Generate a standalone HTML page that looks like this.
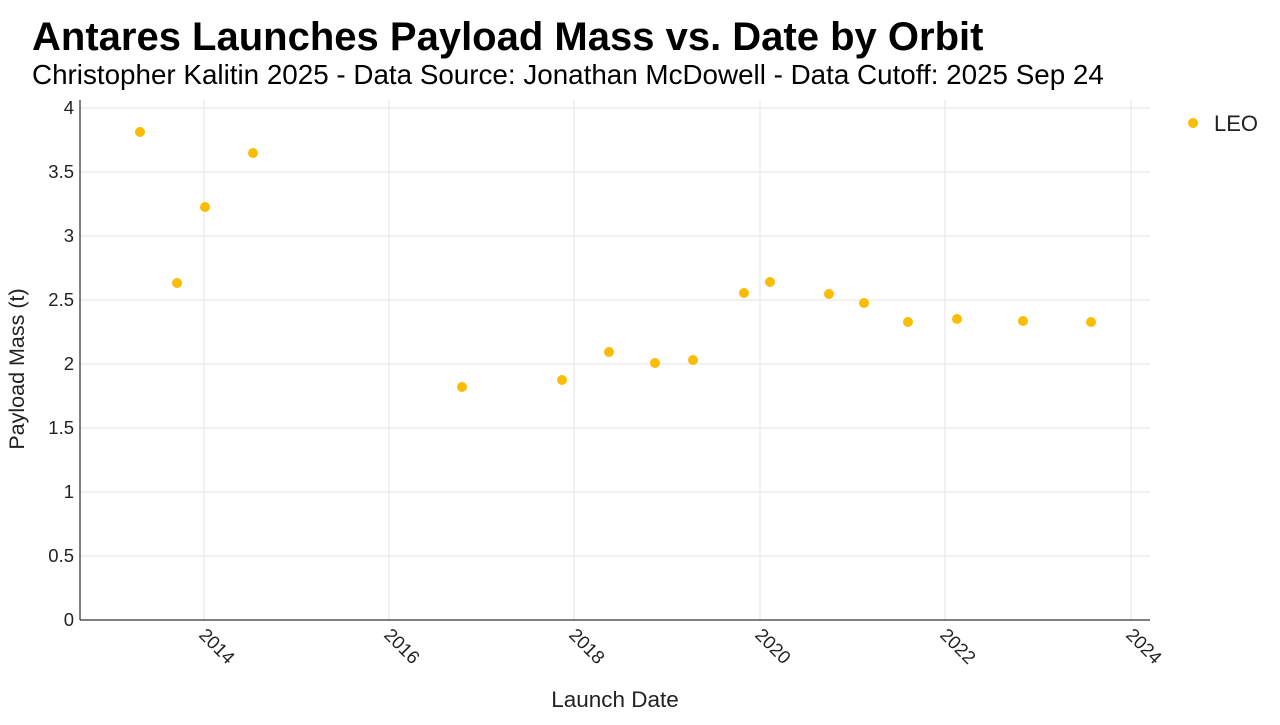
<!DOCTYPE html>
<html><head><meta charset="utf-8"><style>
body{margin:0;background:#fff;font-family:"Liberation Sans",Arial,sans-serif;}
</style></head><body>
<svg width="1280" height="720" xmlns="http://www.w3.org/2000/svg" font-family="Liberation Sans, Arial, sans-serif">
<rect width="1280" height="720" fill="#fff"/>
<text x="32" y="50" font-size="40" font-weight="bold" fill="#000">Antares Launches Payload Mass vs. Date by Orbit</text>
<text x="32" y="84" font-size="27.8" fill="#000">Christopher Kalitin 2025 - Data Source: Jonathan McDowell - Data Cutoff: 2025 Sep 24</text>
<g stroke="#e3e3e3" stroke-width="1">
<line x1="80" x2="1150" y1="108" y2="108"/><line x1="80" x2="1150" y1="172" y2="172"/>
<line x1="80" x2="1150" y1="236" y2="236"/><line x1="80" x2="1150" y1="300" y2="300"/>
<line x1="80" x2="1150" y1="364" y2="364"/><line x1="80" x2="1150" y1="428" y2="428"/>
<line x1="80" x2="1150" y1="492" y2="492"/><line x1="80" x2="1150" y1="556" y2="556"/>
<line x1="204" x2="204" y1="100" y2="620"/><line x1="389" x2="389" y1="100" y2="620"/>
<line x1="574" x2="574" y1="100" y2="620"/><line x1="760" x2="760" y1="100" y2="620"/>
<line x1="945" x2="945" y1="100" y2="620"/><line x1="1131" x2="1131" y1="100" y2="620"/>
</g>
<line x1="80" x2="80" y1="100" y2="620" stroke="#000"/>
<line x1="80" x2="1150" y1="620" y2="620" stroke="#000"/>
<g font-size="18.5" fill="#222" text-anchor="end">
<text x="74" y="114">4</text><text x="74" y="178">3.5</text><text x="74" y="242">3</text>
<text x="74" y="306">2.5</text><text x="74" y="370">2</text><text x="74" y="434">1.5</text>
<text x="74" y="498">1</text><text x="74" y="562">0.5</text><text x="74" y="626">0</text>
</g>
<g font-size="18.5" fill="#222">
<text transform="translate(198,636) rotate(45)">2014</text>
<text transform="translate(383,636) rotate(45)">2016</text>
<text transform="translate(568,636) rotate(45)">2018</text>
<text transform="translate(754,636) rotate(45)">2020</text>
<text transform="translate(939,636) rotate(45)">2022</text>
<text transform="translate(1125,636) rotate(45)">2024</text>
</g>
<text x="615" y="707" font-size="22.5" text-anchor="middle" fill="#222">Launch Date</text>
<text transform="translate(24,369) rotate(-90)" font-size="21.5" text-anchor="middle" fill="#222">Payload Mass (t)</text>
<g fill="#fbbc05">
<circle cx="140" cy="132" r="5"/><circle cx="177" cy="283" r="5"/><circle cx="205" cy="207" r="5"/>
<circle cx="253" cy="153" r="5"/><circle cx="462" cy="387" r="5"/><circle cx="562" cy="380" r="5"/>
<circle cx="609" cy="352" r="5"/><circle cx="655" cy="363" r="5"/><circle cx="693" cy="360" r="5"/>
<circle cx="744" cy="293" r="5"/><circle cx="770" cy="282" r="5"/><circle cx="829" cy="294" r="5"/>
<circle cx="864" cy="303" r="5"/><circle cx="908" cy="322" r="5"/><circle cx="957" cy="319" r="5"/>
<circle cx="1023" cy="321" r="5"/><circle cx="1091" cy="322" r="5"/>
<circle cx="1193" cy="123" r="5"/>
</g>
<text x="1214" y="131" font-size="22" fill="#222">LEO</text>
</svg>
</body></html>
